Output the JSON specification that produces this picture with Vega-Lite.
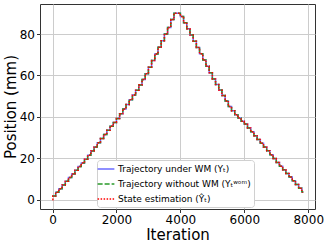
{
  "$schema": "https://vega.github.io/schema/vega-lite/v6.json",
  "width": 275,
  "height": 205,
  "autosize": "none",
  "padding": {"left": 40, "top": 4, "right": 9, "bottom": 37},
  "background": "white",
  "config": {
    "font": "DejaVu Sans",
    "view": {"stroke": "#333333", "strokeWidth": 1},
    "axis": {
      "labelFont": "DejaVu Sans",
      "titleFont": "DejaVu Sans",
      "labelFontSize": 12,
      "titleFontSize": 15,
      "titleFontWeight": "normal",
      "labelColor": "#000000",
      "titleColor": "#000000",
      "gridColor": "#cccccc",
      "gridWidth": 1,
      "tickColor": "#333333",
      "tickSize": 3.5,
      "labelPadding": 2,
      "domain": false
    }
  },
  "data": {
    "values": [
      {"it": 0, "a": 1.8, "b": 1.8, "c": 0},
      {"it": 10, "c": 1.8},
      {"it": 100, "a": 3.6, "b": 3.6, "c": 3.6},
      {"it": 200, "a": 5.3, "b": 5.3, "c": 5.3},
      {"it": 300, "a": 7.1, "b": 7.1, "c": 7.1},
      {"it": 400, "a": 8.9, "b": 8.9, "c": 8.9},
      {"it": 500, "a": 10.7, "b": 10.7, "c": 10.7},
      {"it": 600, "a": 12.4, "b": 12.4, "c": 12.4},
      {"it": 700, "a": 14.2, "b": 14.2, "c": 14.2},
      {"it": 800, "a": 16.0, "b": 16.0, "c": 16.0},
      {"it": 900, "a": 17.7, "b": 17.7, "c": 17.7},
      {"it": 1000, "a": 19.5, "b": 19.5, "c": 19.5},
      {"it": 1100, "a": 21.5, "b": 21.5, "c": 21.5},
      {"it": 1200, "a": 23.5, "b": 23.5, "c": 23.5},
      {"it": 1300, "a": 25.5, "b": 25.5, "c": 25.5},
      {"it": 1400, "a": 27.5, "b": 27.5, "c": 27.5},
      {"it": 1500, "a": 29.5, "b": 29.5, "c": 29.5},
      {"it": 1600, "a": 31.5, "b": 31.5, "c": 31.5},
      {"it": 1700, "a": 33.5, "b": 33.5, "c": 33.5},
      {"it": 1800, "a": 35.5, "b": 35.5, "c": 35.5},
      {"it": 1900, "a": 37.3, "b": 37.3, "c": 37.3},
      {"it": 2000, "a": 39.2, "b": 39.2, "c": 39.2},
      {"it": 2100, "a": 41.5, "b": 41.5, "c": 41.5},
      {"it": 2200, "a": 43.8, "b": 43.8, "c": 43.8},
      {"it": 2300, "a": 46.0, "b": 46.0, "c": 46.0},
      {"it": 2400, "a": 48.3, "b": 48.3, "c": 48.3},
      {"it": 2500, "a": 50.5, "b": 50.5, "c": 50.5},
      {"it": 2600, "a": 52.9, "b": 52.9, "c": 52.9},
      {"it": 2700, "a": 55.4, "b": 55.4, "c": 55.4},
      {"it": 2800, "a": 58.0, "b": 58.0, "c": 58.0},
      {"it": 2900, "a": 60.8, "b": 60.8, "c": 60.8},
      {"it": 3000, "a": 64.0, "b": 64.0, "c": 64.0},
      {"it": 3100, "a": 67.2, "b": 67.2, "c": 67.2},
      {"it": 3200, "a": 70.4, "b": 70.4, "c": 70.4},
      {"it": 3300, "a": 73.6, "b": 73.6, "c": 73.6},
      {"it": 3400, "a": 76.8, "b": 76.8, "c": 76.8},
      {"it": 3500, "a": 80.0, "b": 80.0, "c": 80.0},
      {"it": 3600, "a": 83.2, "b": 83.2, "c": 83.2},
      {"it": 3700, "a": 87.0, "b": 87.0, "c": 87.0},
      {"it": 3800, "a": 90.0, "b": 90.0, "c": 90.0},
      {"it": 3900, "a": 90.0, "b": 90.0, "c": 90.0},
      {"it": 4000, "a": 88.5, "b": 88.5, "c": 88.5},
      {"it": 4100, "a": 85.5, "b": 85.5, "c": 85.5},
      {"it": 4200, "a": 82.5, "b": 82.5, "c": 82.5},
      {"it": 4300, "a": 79.5, "b": 79.5, "c": 79.5},
      {"it": 4400, "a": 76.5, "b": 76.5, "c": 76.5},
      {"it": 4500, "a": 73.5, "b": 73.5, "c": 73.5},
      {"it": 4600, "a": 70.5, "b": 70.5, "c": 70.5},
      {"it": 4700, "a": 67.4, "b": 67.4, "c": 67.4},
      {"it": 4800, "a": 64.4, "b": 64.4, "c": 64.4},
      {"it": 4900, "a": 61.3, "b": 61.3, "c": 61.3},
      {"it": 5000, "a": 58.3, "b": 58.3, "c": 58.3},
      {"it": 5100, "a": 55.6, "b": 55.6, "c": 55.6},
      {"it": 5200, "a": 53.0, "b": 53.0, "c": 53.0},
      {"it": 5300, "a": 50.3, "b": 50.3, "c": 50.3},
      {"it": 5400, "a": 47.7, "b": 47.7, "c": 47.7},
      {"it": 5500, "a": 45.0, "b": 45.0, "c": 45.0},
      {"it": 5600, "a": 43.0, "b": 43.0, "c": 43.0},
      {"it": 5700, "a": 41.0, "b": 41.0, "c": 41.0},
      {"it": 5800, "a": 39.4, "b": 39.4, "c": 39.4},
      {"it": 5900, "a": 37.9, "b": 37.9, "c": 37.9},
      {"it": 6000, "a": 36.5, "b": 36.5, "c": 36.5},
      {"it": 6100, "a": 34.6, "b": 34.6, "c": 34.6},
      {"it": 6200, "a": 32.8, "b": 32.8, "c": 32.8},
      {"it": 6300, "a": 30.9, "b": 30.9, "c": 30.9},
      {"it": 6400, "a": 29.1, "b": 29.1, "c": 29.1},
      {"it": 6500, "a": 27.3, "b": 27.3, "c": 27.3},
      {"it": 6600, "a": 25.4, "b": 25.4, "c": 25.4},
      {"it": 6700, "a": 23.6, "b": 23.6, "c": 23.6},
      {"it": 6800, "a": 21.7, "b": 21.7, "c": 21.7},
      {"it": 6900, "a": 19.9, "b": 19.9, "c": 19.9},
      {"it": 7000, "a": 18.0, "b": 18.0, "c": 18.0},
      {"it": 7100, "a": 16.2, "b": 16.2, "c": 16.2},
      {"it": 7200, "a": 14.4, "b": 14.4, "c": 14.4},
      {"it": 7300, "a": 12.7, "b": 12.7, "c": 12.7},
      {"it": 7400, "a": 10.9, "b": 10.9, "c": 10.9},
      {"it": 7500, "a": 9.1, "b": 9.1, "c": 9.1},
      {"it": 7600, "a": 7.3, "b": 7.3, "c": 7.3},
      {"it": 7700, "a": 5.5, "b": 5.5, "c": 5.5},
      {"it": 7800, "a": 3.8, "b": 3.8, "c": 3.8},
      {"it": 7820, "a": 3.4, "b": 3.4, "c": 3.4}
    ]
  },
  "transform": [
    {"fold": ["a", "b", "c"], "as": ["s", "v"]},
    {"filter": "isValid(datum.v)"}
  ],
  "mark": {"type": "line", "interpolate": "step-after", "strokeWidth": 1.5, "clip": true},
  "encoding": {
    "x": {
      "field": "it", "type": "quantitative", "title": "Iteration",
      "scale": {"domain": [-391, 8211], "nice": false, "zero": false},
      "axis": {"values": [0, 2000, 4000, 6000, 8000], "format": "d", "titlePadding": 2}
    },
    "y": {
      "field": "v", "type": "quantitative", "title": "Position (mm)",
      "scale": {"domain": [-4.5, 94.5], "nice": false, "zero": false},
      "axis": {"values": [0, 20, 40, 60, 80], "format": "d", "titlePadding": 1}
    },
    "color": {
      "field": "s", "type": "nominal",
      "scale": {"domain": ["a", "b", "c"], "range": ["#6b6bff", "#2a9a2a", "#ff0000"]},
      "legend": {
        "title": null,
        "orient": "none",
        "legendX": 57,
        "legendY": 156,
        "direction": "vertical",
        "labelExpr": "datum.value == 'a' ? 'Trajectory under WM (Yₜ)' : datum.value == 'b' ? 'Trajectory without WM (Yₜʷᵒᵐ)' : 'State estimation (Ŷₜ)'",
        "labelFontSize": 9,
        "labelFont": "DejaVu Sans",
        "labelColor": "#000000",
        "labelOffset": 6,
        "symbolType": "M-1.6,0H1.6",
        "symbolSize": 110,
        "symbolStrokeWidth": 1.5,
        "rowPadding": 4,
        "padding": 3,
        "strokeColor": "#d0d0d0",
        "fillColor": "#ffffff",
        "cornerRadius": 3
      }
    },
    "strokeDash": {
      "field": "s", "type": "nominal",
      "scale": {"domain": ["a", "b", "c"], "range": [[1, 0], [5, 2], [1.5, 1.5]]},
      "legend": null
    },
    "order": {"field": "it", "type": "quantitative"}
  }
}
